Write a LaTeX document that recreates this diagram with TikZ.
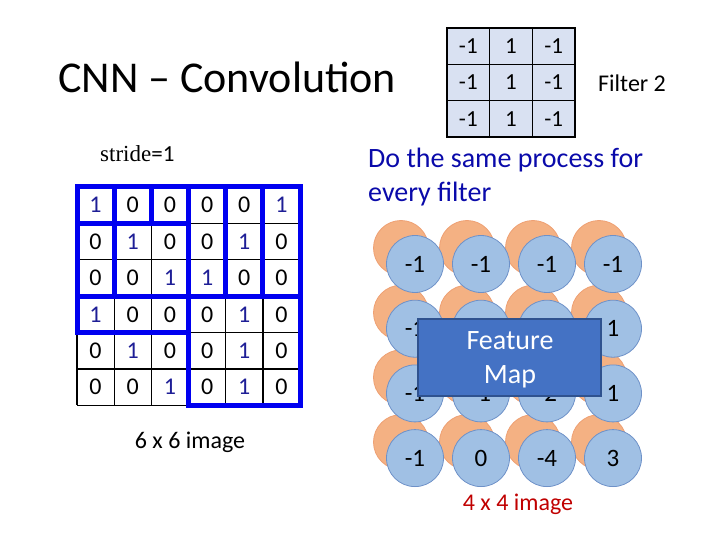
\documentclass[tikz,border=0pt]{standalone}
\usepackage{fontspec}
\setmainfont{Carlito}
\newfontfamily\seriffont{Liberation Serif}
\definecolor{gridblue}{RGB}{0,0,240}
\definecolor{onecol}{RGB}{30,30,150}
\definecolor{doblue}{RGB}{10,10,170}
\definecolor{filterfill}{RGB}{217,225,242}
\definecolor{bluefill}{RGB}{160,192,228}
\definecolor{blueedge}{RGB}{110,145,200}
\definecolor{orangefill}{RGB}{244,177,131}
\definecolor{orangeedge}{RGB}{238,160,115}
\definecolor{fmfill}{RGB}{68,114,196}
\definecolor{fmedge}{RGB}{47,82,143}
\definecolor{redtext}{RGB}{192,0,0}
\tikzset{
  fcell/.style={draw=black, fill=filterfill, line width=1.5pt, minimum width=42.67pt, minimum height=36.33pt, inner sep=0pt, font=\fontsize{23}{23}\selectfont},
  gcell/.style={minimum width=37.17pt, minimum height=36.4pt, inner sep=0pt, font=\fontsize{24}{24}\selectfont},
  thinline/.style={draw=black, line width=1.3pt},
  bluebar/.style={draw=gridblue, line width=5pt, line cap=rect},
  obub/.style={circle, fill=orangefill, draw=orangeedge, line width=0.8pt, minimum size=55pt, inner sep=0pt},
  bbub/.style={circle, fill=bluefill, draw=blueedge, line width=0.8pt, minimum size=57pt, inner sep=0pt},
  bubtext/.style={font=\fontsize{25}{25}\selectfont, inner sep=0pt},
}
\begin{document}
\begin{tikzpicture}[x=1pt,y=-1pt]
\useasboundingbox (0,0) rectangle (720,540);

% title
\node[anchor=base west, inner sep=0pt, font=\fontsize{44}{44}\selectfont] (title) at (58,93) {CNN \textendash{} Convolution};

% filter
\foreach \r in {0,1,2}{
  \foreach \c/\val in {0/-1,1/1,2/-1}{
    \node[fcell] (f\r\c) at ({447+42.67*\c+21.33},{28+36.33*\r+18.17}) {\val};
  }
}
\node[anchor=west, inner sep=0pt, font=\fontsize{24}{24}\selectfont] (filtername) at (598,83) {Filter 2};

% stride
\node[anchor=base west, inner sep=0pt, font=\fontsize{23}{23}\selectfont] (stride) at (100,162) {{\seriffont stride}=1};

% process text
\node[anchor=base west, inner sep=0pt, text=doblue, font=\fontsize{28}{28}\selectfont] (do1) at (368,168) {Do the same process for};
\node[anchor=base west, inner sep=0pt, text=doblue, font=\fontsize{28}{28}\selectfont] (do2) at (368,202) {every filter};

% grid corner coordinates
\foreach \i in {0,...,6}{
  \foreach \j in {0,...,6}{
    \coordinate (g\i\j) at ({77+37.17*\i},{187+36.4*\j});
  }
}
% cells
\foreach \j/\row in {0/{1,0,0,0,0,1},1/{0,1,0,0,1,0},2/{0,0,1,1,0,0},3/{1,0,0,0,1,0},4/{0,1,0,0,1,0},5/{0,0,1,0,1,0}}{
  \foreach \val [count=\i from 0] in \row{
    \ifnum\val=1
      \node[gcell, text=onecol] (c\j\i) at ({77+37.17*\i+18.58},{187+36.4*\j+18.2}) {\val};
    \else
      \node[gcell, text=black] (c\j\i) at ({77+37.17*\i+18.58},{187+36.4*\j+18.2}) {\val};
    \fi
  }
}
% thin grid
\foreach \k in {0,...,6}{
  \draw[thinline] (g\k0) -- (g\k6);
  \draw[thinline] (g0\k) -- (g6\k);
}
% thick blue window outlines
\draw[bluebar] (g00) -- (g60);
\draw[bluebar] (g01) -- (g31);
\draw[bluebar] (g03) -- (g63);
\draw[bluebar] (g04) -- (g34);
\draw[bluebar] (g36) -- (g66);
\draw[bluebar] (g00) -- (g04);
\draw[bluebar] (g10) -- (g13);
\draw[bluebar] (g20) -- (g21);
\draw[bluebar] (g30) -- (g36);
\draw[bluebar] (g40) -- (g43);
\draw[bluebar] (g50) -- (g53);
\draw[bluebar] (g60) -- (g66);

\node[anchor=base, inner sep=0pt, font=\fontsize{24}{24}\selectfont] (six) at (190,448) {6 x 6 image};

% feature map bubbles
\foreach \r in {0,...,3}{
  \foreach \c in {0,...,3}{
    \node[obub] (o\r\c) at ({401+66*\c},{248+64.7*\r}) {};
  }
}
\foreach \r in {0,...,3}{
  \foreach \c in {0,...,3}{
    \node[bbub] (b\r\c) at ({415+66*\c},{264+64.7*\r}) {};
  }
}
\node[bubtext] at (b00) {-1};
\node[bubtext] at (b01) {-1};
\node[bubtext] at (b02) {-1};
\node[bubtext] at (b03) {-1};
\node[bubtext] at (b10) {-1};
\node[bubtext] at (b13) {1};
\node[bubtext] at (b20) {-1};
\node[bubtext] at (b21) {-1};
\node[bubtext] at (b22) {-2};
\node[bubtext] at (b23) {1};
\node[bubtext] at (b30) {-1};
\node[bubtext] at (b31) {0};
\node[bubtext] at (b32) {-4};
\node[bubtext] at (b33) {3};

\node[draw=fmedge, fill=fmfill, line width=1.2pt, minimum width=183pt, minimum height=77pt, inner sep=0pt] (fm) at (509.5,357.5) {};
\node[anchor=base, inner sep=0pt, text=white, font=\fontsize{28}{28}\selectfont] (fm1) at (510,349) {Feature};
\node[anchor=base, inner sep=0pt, text=white, font=\fontsize{28}{28}\selectfont] (fm2) at (510,383) {Map};

\node[anchor=base, inner sep=0pt, text=redtext, font=\fontsize{24}{24}\selectfont] (four) at (518,510) {4 x 4 image};
\end{tikzpicture}
\end{document}
